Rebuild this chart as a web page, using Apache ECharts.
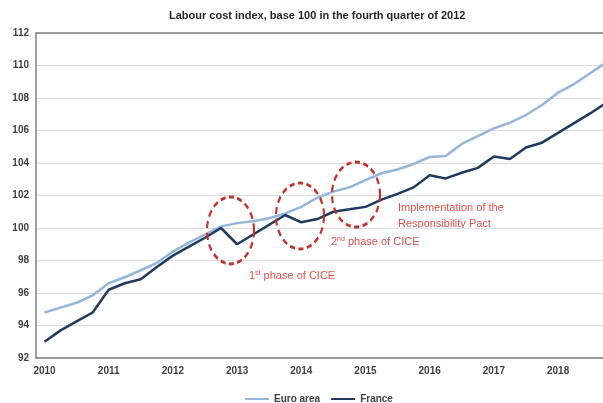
<!DOCTYPE html>
<html>
<head>
<meta charset="utf-8">
<title>Labour cost index</title>
<script src="https://cdn.jsdelivr.net/npm/echarts@6/dist/echarts.min.js"></script>
<style>
  html, body { margin: 0; padding: 0; background: #ffffff; }
  #chart { width: 603px; height: 403px; }
</style>
</head>
<body>
<div id="chart"></div>
<script>
// Quarterly labour cost index, 2010Q1 .. 2018Q4 (base 100 = 2012Q4)
const yearLabels = ['2010', '2011', '2012', '2013', '2014', '2015', '2016', '2017', '2018'];

const euroArea = [
  94.8, 95.1, 95.4, 95.85,
  96.6, 96.97, 97.4, 97.85,
  98.55, 99.1, 99.6, 100.1,
  100.3, 100.42, 100.6, 100.9,
  101.3, 101.87, 102.24, 102.5,
  102.95, 103.37, 103.6, 103.94,
  104.37, 104.43, 105.17, 105.66,
  106.13, 106.48, 106.95, 107.57,
  108.33, 108.86, 109.52, 110.2
];

const france = [
  93.0, 93.7, 94.25, 94.8,
  96.2, 96.6, 96.85, 97.6,
  98.3, 98.85, 99.4, 100.0,
  99.0, 99.6, 100.2, 100.8,
  100.35, 100.55, 101.0, 101.15,
  101.3, 101.75, 102.1, 102.5,
  103.25, 103.05, 103.4, 103.7,
  104.4, 104.25, 104.95, 105.25,
  105.85, 106.45, 107.05, 107.7
];

// Dashed rings around the policy dates: [quarter index, index level]
const policyRings = [
  [11.59, 99.85],
  [15.92, 100.74],
  [19.41, 102.06]
];

const toPairs = arr => arr.map((v, i) => [i, v]);
const yearTicks = yearLabels.map((_, i) => i * 4);

const chart = echarts.init(document.getElementById('chart'), null, { renderer: 'canvas' });

const axisGrey = '#7f7f7f';
const labelFont = 'Liberation Sans, Arial, sans-serif';
const noteRed = '#e0504a';
const ringRed = '#c4302b';

const richNote = {
  n: { fontSize: 11, fontFamily: labelFont, fill: noteRed, color: noteRed },
  s: { fontSize: 7, fontFamily: labelFont, fill: noteRed, color: noteRed, verticalAlign: 'top', padding: [0, 0, 5, 0] }
};

chart.setOption({
  backgroundColor: '#ffffff',
  animation: false,
  title: {
    text: 'Labour cost index, base 100 in the fourth quarter of 2012',
    left: 164,
    top: 5,
    textStyle: { fontFamily: labelFont, fontSize: 11, fontWeight: 'bold', color: '#262626' }
  },
  grid: { left: 36, right: 0, top: 33, bottom: 45, containLabel: false },
  legend: {
    left: 240,
    top: 389,
    itemWidth: 24,
    itemHeight: 2,
    itemGap: 11,
    icon: 'rect',
    textStyle: { fontFamily: labelFont, fontSize: 10, fontWeight: 'bold', color: '#404040' },
    data: ['Euro area', 'France']
  },
  xAxis: [
    {
      type: 'value',
      position: 'bottom',
      min: -0.53,
      max: 34.8,
      axisLine: { show: true, onZero: false, lineStyle: { color: axisGrey, width: 1.5 } },
      axisTick: { show: false },
      splitLine: { show: false },
      axisLabel: {
        customValues: yearTicks,
        formatter: v => yearLabels[Math.round(v / 4)],
        fontFamily: labelFont,
        fontSize: 10,
        fontWeight: 'bold',
        color: '#404040',
        margin: 8
      }
    },
    {
      type: 'value',
      position: 'top',
      min: -0.53,
      max: 34.8,
      axisLine: { show: true, onZero: false, lineStyle: { color: axisGrey, width: 1.5 } },
      axisTick: { show: false },
      axisLabel: { show: false },
      splitLine: { show: false }
    }
  ],
  yAxis: {
    type: 'value',
    min: 92,
    max: 112,
    interval: 2,
    axisLine: { show: true, onZero: false, lineStyle: { color: axisGrey, width: 1.5 } },
    axisTick: { show: false },
    splitLine: { show: true, lineStyle: { color: '#dcdcdc', width: 1 } },
    axisLabel: {
      fontFamily: labelFont,
      fontSize: 10,
      fontWeight: 'bold',
      color: '#404040',
      margin: 7
    }
  },
  series: [
    {
      name: 'Euro area',
      type: 'line',
      data: toPairs(euroArea),
      showSymbol: false,
      clip: true,
      lineStyle: { color: '#94b5dc', width: 2.5 },
      itemStyle: { color: '#94b5dc' }
    },
    {
      name: 'France',
      type: 'line',
      data: toPairs(france),
      showSymbol: false,
      clip: true,
      lineStyle: { color: '#1f3a5f', width: 2.5 },
      itemStyle: { color: '#1f3a5f' },
      markPoint: {
        symbol: 'circle',
        silent: true,
        label: { show: false },
        itemStyle: { color: 'rgba(0,0,0,0)', borderColor: ringRed, borderWidth: 2.5, borderType: [6, 4] },
        data: [
          { coord: policyRings[0], symbolSize: [47, 67] },
          { coord: policyRings[1], symbolSize: [48, 66] },
          { coord: policyRings[2], symbolSize: [48, 65] }
        ]
      }
    }
  ],
  graphic: [
    {
      type: 'text', left: 398, top: 202,
      style: { text: 'Implementation of the', font: '11px ' + labelFont, fill: noteRed }
    },
    {
      type: 'text', left: 398, top: 218,
      style: { text: 'Responsibility Pact', font: '11px ' + labelFont, fill: noteRed }
    },
    {
      type: 'text', left: 331, top: 236,
      style: { text: '{n|2}{s|nd}{n| phase of CICE}', rich: richNote }
    },
    {
      type: 'text', left: 249, top: 270,
      style: { text: '{n|1}{s|st}{n| phase of CICE}', rich: richNote }
    }
  ]
});
</script>
</body>
</html>
